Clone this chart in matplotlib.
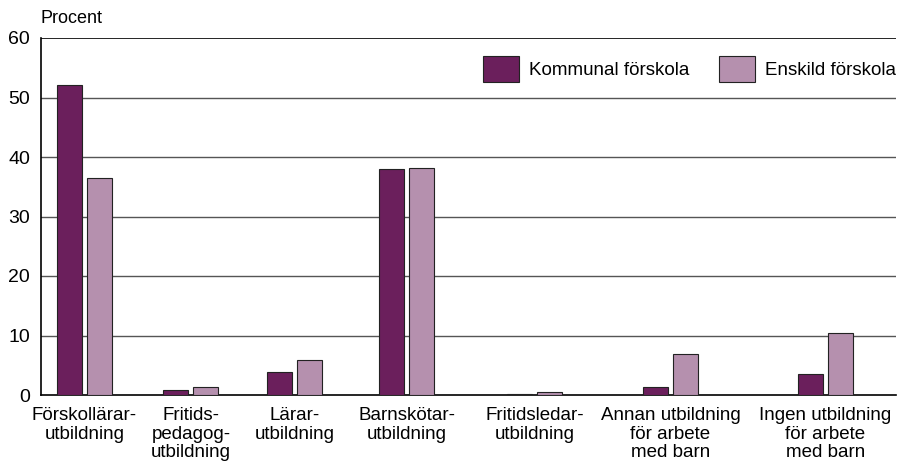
import matplotlib.pyplot as plt
import numpy as np

plt.rcParams['font.family'] = ['Liberation Sans', 'DejaVu Sans']

categories = ['Förskollärar-\nutbildning', 'Fritids-\npedagog-\nutbildning', 'Lärar-\nutbildning',
              'Barnskötar-\nutbildning', 'Fritidsledar-\nutbildning',
              'Annan utbildning\nför arbete\nmed barn', 'Ingen utbildning\nför arbete\nmed barn']
kommunal = [52.1, 0.8, 3.9, 38.0, 0.15, 1.4, 3.6]
enskild = [36.5, 1.3, 5.8, 38.2, 0.45, 6.95, 10.45]
series_names = ['Kommunal förskola', 'Enskild förskola']

# group centres follow the uneven spacing of the original layout (pixel-like units)
centers = np.array([84.5, 191, 295, 407, 535, 670.5, 825.5])
bar_w = 25
gap = 5

fig = plt.figure(figsize=(9.03, 4.68), dpi=100)
ax = fig.add_axes([41 / 903, 73 / 468, 855 / 903, 357 / 468])

ax.bar(centers - (bar_w + gap) / 2, kommunal, bar_w, color='#6b1f5c', edgecolor='#222222',
       linewidth=0.8, label=series_names[0], zorder=3)
ax.bar(centers + (bar_w + gap) / 2, enskild, bar_w, color='#b590ae', edgecolor='#222222',
       linewidth=0.8, label=series_names[1], zorder=3)

ax.set_xlim(41, 896)
ax.set_ylim(0, 60)
ax.set_yticks(range(0, 61, 10))
for y in range(10, 60, 10):
    ax.axhline(y, color='#555555', linewidth=1.0, zorder=1)
ax.axhline(60, color='black', linewidth=1.2, zorder=1)

ax.set_xticks(centers)
ax.set_xticklabels(categories, fontsize=13.5, linespacing=1.1)
ax.tick_params(axis='both', length=0)
ax.tick_params(axis='y', pad=8, labelsize=14)
ax.tick_params(axis='x', pad=9)

for s in ['top', 'right']:
    ax.spines[s].set_visible(False)
ax.spines['left'].set_linewidth(1.2)
ax.spines['bottom'].set_linewidth(1.2)

ax.text(0.0, 1.03, 'Procent', transform=ax.transAxes, fontsize=13, ha='left', va='bottom')

leg = ax.legend(loc='upper right', bbox_to_anchor=(1.009, 0.97), ncol=2, frameon=True,
                fontsize=13.5, handlelength=1.9, handleheight=1.75, columnspacing=1.6,
                handletextpad=0.55, borderaxespad=0)
leg.get_frame().set_facecolor('white')
leg.get_frame().set_edgecolor('white')
leg.set_zorder(4)

fig.savefig('out.png', dpi=100)
